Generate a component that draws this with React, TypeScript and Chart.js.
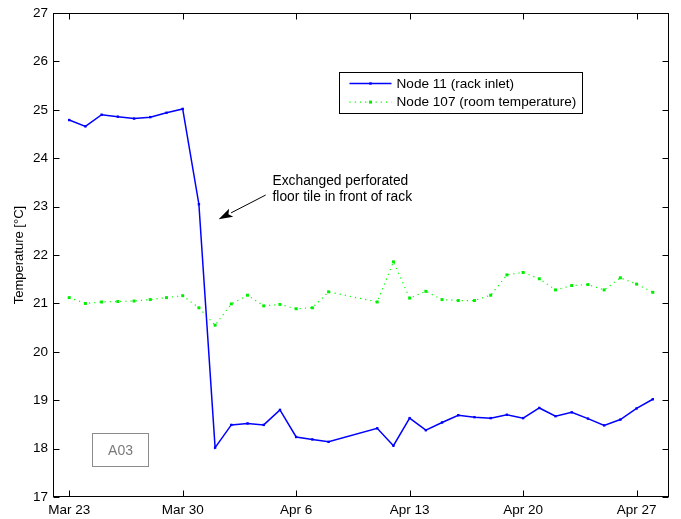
import React, { useEffect, useRef } from "react";
import { Chart, registerables } from "chart.js";

Chart.register(...registerables);

// Day offsets from Mar 23 for each daily sample (no readings on Apr 9 and Apr 10)
const sampleDays = [
  0, 1, 2, 3, 4, 5, 6, 7, 8, 9, 10, 11, 12, 13, 14, 15, 16,
  19, 20, 21, 22, 23, 24, 25, 26, 27, 28, 29, 30, 31, 32, 33, 34, 35, 36,
];

// Node 11, rack inlet temperature [°C]
const node11 = [
  24.79, 24.66, 24.9, 24.86, 24.82, 24.85, 24.94, 25.02, 23.05, 18.02, 18.49, 18.52, 18.49, 18.8, 18.24, 18.19, 18.14,
  18.42, 18.06, 18.63, 18.38, 18.54, 18.69, 18.65, 18.63, 18.7, 18.63, 18.84, 18.67, 18.75, 18.62, 18.48, 18.6, 18.83, 19.02,
];

// Node 107, room temperature [°C]
const node107 = [
  21.12, 21.0, 21.03, 21.04, 21.05, 21.08, 21.12, 21.16, 20.91, 20.55, 20.99, 21.17, 20.95, 20.98, 20.89, 20.91, 21.24,
  21.03, 21.86, 21.11, 21.25, 21.08, 21.06, 21.06, 21.17, 21.59, 21.64, 21.51, 21.28, 21.37, 21.39, 21.28, 21.53, 21.4, 21.23,
];

const seriesNames = ["Node 11 (rack inlet)", "Node 107 (room temperature)"];

const tickDays = [0, 7, 14, 21, 28, 35];
const tickLabels = ["Mar 23", "Mar 30", "Apr 6", "Apr 13", "Apr 20", "Apr 27"];

const yTitle = "Temperature [°C]";

const noteLines = ["Exchanged perforated", "floor tile in front of rack"];
const noteAnchor = [12.54, 23.52]; // day, °C of first text line
const arrowTail = [12.12, 23.24];
const arrowHead = [9.22, 22.74];

const tagText = "A03";
const tagBox = [1.4, 4.88, 18.32, 17.65]; // day from, day to, °C top, °C bottom

const FONT = "'Liberation Sans', Arial, Helvetica, sans-serif";

const framePlugin = {
  id: "frame",
  afterDraw(chart: any) {
    const { ctx, chartArea: a, scales } = chart;
    const xs = scales.x;
    const ys = scales.y;
    const L = Math.round(a.left) + 0.5;
    const R = Math.round(a.right) - 0.5;
    const T = Math.round(a.top) + 0.5;
    const B = Math.round(a.bottom) - 0.5;
    ctx.save();
    ctx.strokeStyle = "#000";
    ctx.lineWidth = 1;
    ctx.strokeRect(L, T, R - L, B - T);
    ctx.beginPath();
    const len = 6;
    xs.ticks.forEach((t: any) => {
      const px = Math.round(xs.getPixelForValue(t.value)) + 0.5;
      ctx.moveTo(px, B);
      ctx.lineTo(px, B - len);
      ctx.moveTo(px, T);
      ctx.lineTo(px, T + len);
    });
    ys.ticks.forEach((t: any) => {
      const py = Math.round(ys.getPixelForValue(t.value)) + 0.5;
      ctx.moveTo(L, py);
      ctx.lineTo(L + len, py);
      ctx.moveTo(R, py);
      ctx.lineTo(R - len, py);
    });
    ctx.stroke();
    ctx.restore();
  },
};

const notesPlugin = {
  id: "notes",
  afterDraw(chart: any) {
    const { ctx, scales } = chart;
    const xs = scales.x;
    const ys = scales.y;
    ctx.save();

    // annotation text
    ctx.fillStyle = "#000";
    ctx.font = `13.8px ${FONT}`;
    ctx.textBaseline = "middle";
    ctx.textAlign = "left";
    const tx = xs.getPixelForValue(noteAnchor[0]);
    const ty = ys.getPixelForValue(noteAnchor[1]);
    noteLines.forEach((line, i) => ctx.fillText(line, tx, ty + i * 15.5));

    // arrow
    const x0 = xs.getPixelForValue(arrowTail[0]);
    const y0 = ys.getPixelForValue(arrowTail[1]);
    const x1 = xs.getPixelForValue(arrowHead[0]);
    const y1 = ys.getPixelForValue(arrowHead[1]);
    const ang = Math.atan2(y1 - y0, x1 - x0);
    const hl = 14;
    const hw = 4.5;
    const bx = x1 - hl * Math.cos(ang);
    const by = y1 - hl * Math.sin(ang);
    ctx.strokeStyle = "#000";
    ctx.lineWidth = 1;
    ctx.beginPath();
    ctx.moveTo(x0, y0);
    ctx.lineTo(bx, by);
    ctx.stroke();
    const nx = -Math.sin(ang);
    const ny = Math.cos(ang);
    const nb = 3;
    ctx.beginPath();
    ctx.moveTo(x1, y1);
    ctx.lineTo(bx + nx * hw, by + ny * hw);
    ctx.lineTo(bx + nb * Math.cos(ang), by + nb * Math.sin(ang));
    ctx.lineTo(bx - nx * hw, by - ny * hw);
    ctx.closePath();
    ctx.fillStyle = "#000";
    ctx.fill();

    // tag box
    const gx0 = Math.round(xs.getPixelForValue(tagBox[0])) + 0.5;
    const gx1 = Math.round(xs.getPixelForValue(tagBox[1])) + 0.5;
    const gy0 = Math.round(ys.getPixelForValue(tagBox[2])) + 0.5;
    const gy1 = Math.round(ys.getPixelForValue(tagBox[3])) + 0.5;
    ctx.strokeStyle = "#8c8c8c";
    ctx.strokeRect(gx0, gy0, gx1 - gx0, gy1 - gy0);
    ctx.fillStyle = "#7a7a7a";
    ctx.font = `14px ${FONT}`;
    ctx.textAlign = "center";
    ctx.fillText(tagText, (gx0 + gx1) / 2, (gy0 + gy1) / 2 + 1);

    ctx.restore();
  },
};

const legendPlugin = {
  id: "boxLegend",
  afterDraw(chart: any) {
    const { ctx, chartArea: a } = chart;
    const sets = chart.data.datasets;
    ctx.save();
    ctx.font = `13.6px ${FONT}`;
    const textW = Math.max(...sets.map((d: any) => ctx.measureText(d.label).width));
    const left = Math.round(a.left + 286) + 0.5;
    const top = Math.round(a.top + 59) + 0.5;
    const sampleL = left + 10;
    const sampleR = left + 52;
    const textX = left + 57;
    const w = Math.round(textX - left + textW + 6);
    const h = 41;
    ctx.fillStyle = "#fff";
    ctx.fillRect(left, top, w, h);
    ctx.strokeStyle = "#000";
    ctx.lineWidth = 1;
    ctx.strokeRect(left, top, w, h);
    sets.forEach((d: any, i: number) => {
      const cy = top + 11 + i * 18.6;
      ctx.strokeStyle = d.borderColor;
      ctx.lineWidth = d.borderWidth;
      ctx.setLineDash(d.borderDash || []);
      ctx.beginPath();
      ctx.moveTo(sampleL, cy);
      ctx.lineTo(sampleR, cy);
      ctx.stroke();
      ctx.setLineDash([]);
      ctx.fillStyle = d.pointBackgroundColor;
      const s = i === 0 ? 2.4 : 3;
      ctx.fillRect((sampleL + sampleR) / 2 - s / 2, cy - s / 2, s, s);
      ctx.fillStyle = "#000";
      ctx.textAlign = "left";
      ctx.textBaseline = "middle";
      ctx.fillText(d.label, textX, cy + 0.5);
    });
    ctx.restore();
  },
};

export default function App() {
  const canvasRef = useRef<HTMLCanvasElement | null>(null);

  useEffect(() => {
    const canvas = canvasRef.current;
    if (!canvas) return;
    const chart = new Chart(canvas, {
      type: "line",
      data: {
        datasets: [
          {
            label: seriesNames[0],
            data: sampleDays.map((d, i) => ({ x: d, y: node11[i] })),
            borderColor: "#0000ff",
            backgroundColor: "#0000ff",
            borderWidth: 1.5,
            pointStyle: "rect",
            pointRadius: 1.7,
            pointBorderWidth: 0,
            pointBackgroundColor: "#0000ff",
            tension: 0,
          },
          {
            label: seriesNames[1],
            data: sampleDays.map((d, i) => ({ x: d, y: node107[i] })),
            borderColor: "#00ff00",
            backgroundColor: "#00ff00",
            borderWidth: 1.2,
            borderDash: [1.2, 4],
            pointStyle: "rect",
            pointRadius: 2.1,
            pointBorderWidth: 0,
            pointBackgroundColor: "#00ee00",
            tension: 0,
          },
        ],
      },
      options: {
        responsive: false,
        animation: false,
        layout: { padding: { left: 0, right: 12, top: 10, bottom: 0 } },
        plugins: {
          legend: { display: false },
          tooltip: { enabled: false },
        },
        scales: {
          x: {
            type: "linear",
            min: -1,
            max: 37,
            grid: { display: false, drawTicks: false },
            border: { display: false },
            afterBuildTicks: (scale: any) => {
              scale.ticks = tickDays.map((v) => ({ value: v }));
            },
            afterFit: (scale: any) => {
              scale.height = 22;
            },
            ticks: {
              padding: 5,
              autoSkip: false,
              maxRotation: 0,
              color: "#000",
              font: { family: FONT, size: 13.5 },
              callback: (v: any) => {
                const k = tickDays.indexOf(Number(v));
                return k >= 0 ? tickLabels[k] : "";
              },
            },
          },
          y: {
            min: 17,
            max: 27,
            grid: { display: false, drawTicks: false },
            border: { display: false },
            afterFit: (scale: any) => {
              scale.width = 53;
            },
            ticks: {
              stepSize: 1,
              padding: 5,
              color: "#000",
              font: { family: FONT, size: 13.5 },
            },
            title: {
              display: true,
              text: yTitle,
              color: "#000",
              font: { family: FONT, size: 13 },
              padding: { top: 12, bottom: 0 },
            },
          },
        },
      },
      plugins: [framePlugin, notesPlugin, legendPlugin],
    });
    return () => chart.destroy();
  }, []);

  return (
    <div style={{ position: "fixed", left: 0, top: 0, width: 681, height: 519, background: "#fff" }}>
      <canvas ref={canvasRef} width={681} height={519} style={{ display: "block" }} />
    </div>
  );
}
